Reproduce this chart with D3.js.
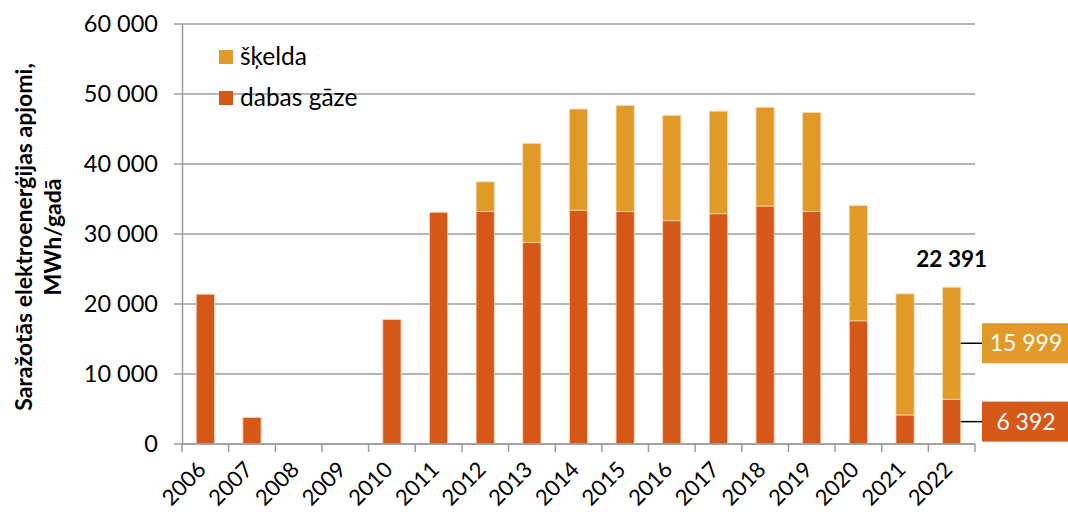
<!DOCTYPE html>
<html>
<head>
<meta charset="utf-8">
<script src="https://cdn.jsdelivr.net/npm/d3@7"></script>
<style>
  body { margin: 0; background: #fff; }
  svg { font-family: Lato, "Open Sans", sans-serif; }
</style>
</head>
<body>
<div class="chart-container"></div>
<script>
// --- data ---
const years = ["2006", "2007", "2008", "2009", "2010", "2011", "2012", "2013", "2014",
  "2015", "2016", "2017", "2018", "2019", "2020", "2021", "2022"];
const gasValues = [21400, 3800, 0, 0, 17800, 33100, 33200, 28800, 33400,
  33200, 31900, 32900, 34000, 33200, 17600, 4150, 6392];
const chipValues = [0, 0, 0, 0, 0, 0, 4250, 14150, 14450,
  15150, 15050, 14650, 14100, 14150, 16450, 17300, 15999];
const yTicks = [0, 10000, 20000, 30000, 40000, 50000, 60000];
const seriesNames = ["dabas gāze", "šķelda"];
const colors = { "dabas gāze": "#D55819", "šķelda": "#E19A27" };

// --- setup ---
const w = 1068, h = 517;
const plotLeft = 182, plotRight = 975, plotTop = 24, plotBottom = 444;

const fmt = v => d3.format(",")(v).replace(/,/g, " ");

const rows = years.map((y, i) => ({ year: y, "dabas gāze": gasValues[i], "šķelda": chipValues[i] }));
const stacked = d3.stack().keys(seriesNames)(rows);

const xScale = d3.scaleBand().domain(years).range([plotLeft, plotRight]).paddingInner(0.61).paddingOuter(0.305);
const xBound = d3.scaleBand().domain(years).range([plotLeft, plotRight]);
const yScale = d3.scaleLinear().domain([0, 60000]).range([plotBottom, plotTop]);

const svg = d3.select(".chart-container").append("svg")
  .attr("width", w).attr("height", h);

// gridlines
svg.append("g").selectAll("line").data(yTicks).enter().append("line")
  .attr("x1", plotLeft - 8).attr("x2", plotRight)
  .attr("y1", d => yScale(d)).attr("y2", d => yScale(d))
  .attr("stroke", "#9b9b9b").attr("stroke-width", 1.5);

// y axis labels
const yAxis = d3.axisLeft(yScale).tickValues(yTicks).tickFormat(fmt).tickSize(0).tickPadding(24);
const gy = svg.append("g").attr("transform", "translate(" + plotLeft + ",0)").call(yAxis);
gy.select(".domain").attr("stroke", "#9b9b9b").attr("stroke-width", 1.5);
gy.selectAll("text").attr("font-size", 23.5).attr("fill", "#000").attr("font-family", "Lato, sans-serif");

// bars
svg.append("g").selectAll("g").data(stacked).enter().append("g")
  .attr("fill", d => colors[d.key])
  .selectAll("rect").data(d => d).enter().append("rect")
  .attr("x", d => xScale(d.data.year))
  .attr("width", xScale.bandwidth())
  .attr("y", d => yScale(d[1]))
  .attr("height", d => yScale(d[0]) - yScale(d[1]))
  .attr("stroke", "#f6d9b8").attr("stroke-width", 0.8)
  .filter(d => d[1] - d[0] <= 0).remove();

// x axis
const gx = svg.append("g").attr("transform", "translate(0," + plotBottom + ")");
gx.append("line").attr("x1", plotLeft).attr("x2", plotRight).attr("stroke", "#9b9b9b").attr("stroke-width", 1.5);
gx.selectAll(".tk").data(years.concat(["end"])).enter().append("line")
  .attr("x1", (d, i) => plotLeft + i * xBound.bandwidth())
  .attr("x2", (d, i) => plotLeft + i * xBound.bandwidth())
  .attr("y1", 0).attr("y2", 8)
  .attr("stroke", "#9b9b9b").attr("stroke-width", 1.5);
gx.selectAll("text").data(years).enter().append("text")
  .attr("transform", d => "translate(" + (xBound(d) + xBound.bandwidth() / 2 + 2) + ",27) rotate(-45)")
  .attr("text-anchor", "end")
  .attr("font-size", 22)
  .text(d => d);

// y title
svg.append("text")
  .attr("transform", "translate(32,237) rotate(-90)")
  .attr("text-anchor", "middle").attr("font-weight", "bold").attr("font-size", 23)
  .text("Saražotās elektroenerģijas apjomi,");
svg.append("text")
  .attr("transform", "translate(61,237) rotate(-90)")
  .attr("text-anchor", "middle").attr("font-weight", "bold").attr("font-size", 23)
  .text("MWh/gadā");

// legend
const legend = svg.append("g").attr("transform", "translate(219,50)");
["šķelda", "dabas gāze"].forEach((k, i) => {
  legend.append("rect").attr("x", 0).attr("y", i * 41).attr("width", 14).attr("height", 14).attr("fill", colors[k]);
  legend.append("text").attr("x", 21).attr("y", i * 41 + 15).attr("font-size", 24.5).text(k);
});

// annotations for last year
const last = rows.length - 1;
const lastYear = years[last];
const total = gasValues[last] + chipValues[last];
svg.append("text")
  .attr("x", xScale(lastYear) + xScale.bandwidth() / 2)
  .attr("y", yScale(total) - 20)
  .attr("text-anchor", "middle").attr("font-weight", "bold").attr("font-size", 22.5)
  .text(fmt(total));

const callouts = [
  { key: "šķelda", mid: gasValues[last] + chipValues[last] / 2, val: chipValues[last] },
  { key: "dabas gāze", mid: gasValues[last] / 2, val: gasValues[last] }
];
const barRight = xScale(lastYear) + xScale.bandwidth();
callouts.forEach(c => {
  const yy = yScale(c.mid);
  svg.append("line").attr("x1", barRight).attr("x2", 983)
    .attr("y1", yy).attr("y2", yy).attr("stroke", "#000").attr("stroke-width", 1.5);
  svg.append("rect").attr("x", 982).attr("y", yy - 20).attr("width", 90).attr("height", 40)
    .attr("fill", colors[c.key]);
  svg.append("text").attr("x", 1026).attr("y", yy + 8).attr("text-anchor", "middle")
    .attr("font-size", 23).attr("fill", "#fff").text(fmt(c.val));
});
</script>
</body>
</html>
